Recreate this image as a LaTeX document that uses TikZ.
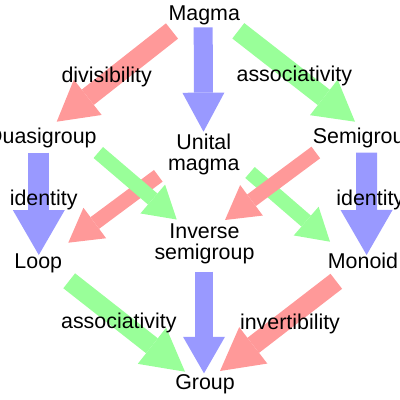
\documentclass[tikz,border=0pt]{standalone}
\usepackage{fontspec}
\setmainfont{Liberation Sans}
\usetikzlibrary{arrows.meta}
\definecolor{ared}{RGB}{255,153,153}
\definecolor{ablue}{RGB}{153,153,255}
\definecolor{agreen}{RGB}{153,255,153}
\tikzset{
  fat/.style n args={3}{line width=#1, line cap=butt, -{Triangle[width=#2,length=#3,line width=0pt]}},
  lbl/.style={inner sep=0pt, text=black, font=\fontsize{21.4}{20.6}\selectfont},
}
\begin{document}
\begin{tikzpicture}[x=1pt,y=-1pt]
\useasboundingbox (0,0) rectangle (400,400);
% arrow end points
\coordinate (t1) at (172,31);     \coordinate (h1) at (56.7,121.7);
\coordinate (t2) at (203.2,27.3); \coordinate (h2) at (203.5,131.7);
\coordinate (t3) at (238.3,30.8); \coordinate (h3) at (355,121.7);
\coordinate (t4) at (38.8,152.7); \coordinate (h4) at (38.8,255);
\coordinate (t5) at (366.5,152.7);\coordinate (h5) at (366.6,255);
\coordinate (t6) at (98.3,152.5); \coordinate (h6) at (176.7,219.5);
\coordinate (t7) at (158.3,175.8);\coordinate (h7) at (68.3,242.7);
\coordinate (t8) at (250,172.5);  \coordinate (h8) at (330,241.7);
\coordinate (t9) at (315.8,152.5);\coordinate (h9) at (225,220);
\coordinate (t10) at (204,271.7); \coordinate (h10) at (204,373.3);
\coordinate (t11) at (69.2,280.8);\coordinate (h11) at (185,371.7);
\coordinate (t12) at (336.3,281.3);\coordinate (h12) at (220,371);
% arrows
\draw[ared,   fat={19.5pt}{45pt}{39.5pt}] (t1) -- (h1);
\draw[ablue,  fat={19pt}{42pt}{39pt}]     (t2) -- (h2);
\draw[agreen, fat={19.5pt}{45pt}{39.5pt}] (t3) -- (h3);
\draw[ablue,  fat={21pt}{52pt}{45pt}]     (t4) -- (h4);
\draw[ablue,  fat={21pt}{52pt}{45pt}]     (t5) -- (h5);
\draw[ared,   fat={14.5pt}{38pt}{33pt}]   (t7) -- (h7);
\draw[agreen, fat={14.5pt}{38pt}{31.5pt}] (t6) -- (h6);
\draw[agreen, fat={14.5pt}{38pt}{31.5pt}] (t8) -- (h8);
\draw[ared,   fat={14.5pt}{38pt}{33pt}]   (t9) -- (h9);
\draw[ablue,  fat={17.5pt}{42pt}{36.5pt}] (t10) -- (h10);
\draw[agreen, fat={19pt}{46pt}{42pt}]     (t11) -- (h11);
\draw[ared,   fat={19pt}{46pt}{42pt}]     (t12) -- (h12);
% labels
\node[lbl, anchor=base] (magma) at (204.3,20.5) {Magma};
\node[lbl, anchor=base] (ldiv) at (106.7,82.7) {divisibility};
\node[lbl, anchor=base] (lasso1) at (294.3,81.7) {associativity};
\node[lbl, anchor=base] (quasi) at (41.3,143.3) {Quasigroup};
\node[lbl, anchor=base] (semi) at (364.6,143.3) {Semigroup};
\node[lbl, align=center] (unital) at (203.8,154.2) {Unital\\magma};
\node[lbl, anchor=base] (lid1) at (43.7,205) {identity};
\node[lbl, anchor=base] (lid2) at (370.3,205) {identity};
\node[lbl, align=center] (inverse) at (204.5,244) {Inverse\\semigroup};
\node[lbl, anchor=base] (loop) at (38.3,268.3) {Loop};
\node[lbl, anchor=base] (monoid) at (363,268.3) {Monoid};
\node[lbl, anchor=base] (lasso2) at (118.8,328.3) {associativity};
\node[lbl, anchor=base] (linv) at (290,329.3) {invertibility};
\node[lbl, anchor=base] (group) at (205,389.3) {Group};
\end{tikzpicture}
\end{document}
